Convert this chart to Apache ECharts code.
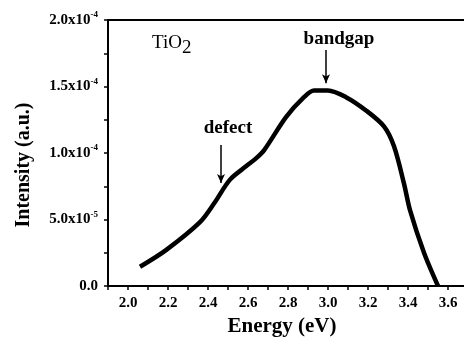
<!DOCTYPE html>
<html>
<head>
<meta charset="utf-8">
<script src="https://cdn.jsdelivr.net/npm/echarts@6/dist/echarts.min.js"></script>
<style>
  html, body { margin: 0; padding: 0; background: #fff; }
  #main { width: 464px; height: 341px; }
</style>
</head>
<body>
<div id="main"></div>
<script>
// photoluminescence curve of TiO2
var energy = [2.06, 2.19, 2.36, 2.43, 2.51, 2.59, 2.64, 2.68, 2.79, 2.88, 2.93, 3.00, 3.09, 3.19, 3.28, 3.33, 3.38, 3.41, 3.48, 3.55];
var intensity = [0.145e-4, 0.27e-4, 0.48e-4, 0.62e-4, 0.80e-4, 0.90e-4, 0.96e-4, 1.02e-4, 1.27e-4, 1.42e-4, 1.47e-4, 1.47e-4, 1.42e-4, 1.32e-4, 1.20e-4, 1.05e-4, 0.77e-4, 0.57e-4, 0.25e-4, 0.0];
var yTickLabels = ["0.0", "5.0x10{s|-5}", "1.0x10{s|-4}", "1.5x10{s|-4}", "2.0x10{s|-4}"];
// arrows: [energy, from, to]
var defectArrow = [2.465, 1.06e-4, 0.775e-4];
var bandgapArrow = [2.99, 1.775e-4, 1.525e-4];
// annotations: [energy, intensity, text]
var tio2Note = [2.12, 1.83e-4, "TiO{sub|2}"];
var bandgapNote = [3.055, 1.86e-4, "bandgap"];
var defectNote = [2.50, 1.19e-4, "defect"];

var font = "Liberation Serif";
var chart = echarts.init(document.getElementById("main"));

var points = energy.map(function (e, i) { return [e, intensity[i]]; });

function note(n, align, weight) {
  return {
    value: [n[0], n[1]],
    name: n[2],
    label: {
      show: true,
      position: [0, 0],
      align: align,
      verticalAlign: "middle",
      formatter: n[2],
      fontFamily: font,
      fontWeight: weight,
      fontSize: 19,
      color: "#000",
      opacity: 1,
      rich: {
        sub: { fontFamily: font, fontWeight: weight, fontSize: 19, color: "#000", padding: [10, 0, 0, 0] }
      }
    }
  };
}

var option = {
  animation: false,
  grid: { left: 108, right: -4, top: 20, bottom: 55, outerBoundsMode: "none", containLabel: false },
  xAxis: [
    {
      type: "value",
      min: 1.9,
      max: 3.7,
      interval: 0.1,
      name: "Energy (eV)",
      nameLocation: "middle",
      nameGap: 30,
      nameTextStyle: { fontFamily: font, fontWeight: "bold", fontSize: 21, color: "#000", padding: [0, 12, 0, 0] },
      axisLine: { lineStyle: { color: "#000", width: 2 } },
      axisTick: { show: true, length: 4, lineStyle: { color: "#000", width: 1.5 } },
      axisLabel: {
        fontFamily: font, fontWeight: "bold", fontSize: 15, color: "#000", margin: 10,
        formatter: function (v) {
          var k = Math.round(v * 10);
          return (k % 2 === 0 && k >= 20 && k <= 36) ? (k / 10).toFixed(1) : "";
        }
      },
      splitLine: { show: false }
    },
    {
      type: "value",
      position: "top",
      min: 1.9,
      max: 3.7,
      axisLine: { show: true, lineStyle: { color: "#000", width: 2 } },
      axisTick: { show: false },
      axisLabel: { show: false },
      splitLine: { show: false }
    }
  ],
  yAxis: {
    type: "value",
    min: 0,
    max: 2e-4,
    interval: 0.25e-4,
    name: "Intensity (a.u.)",
    nameLocation: "middle",
    nameGap: 74,
    nameTextStyle: { fontFamily: font, fontWeight: "bold", fontSize: 20, color: "#000", padding: [0, 0, 0, -24] },
    axisLine: { show: true, lineStyle: { color: "#000", width: 2 } },
    axisTick: { show: true, length: 4, lineStyle: { color: "#000", width: 1.5 } },
    axisLabel: {
      fontFamily: font, fontWeight: "bold", fontSize: 15, color: "#000", margin: 10,
      formatter: function (v) {
        var k = Math.round(v / 0.25e-4);
        return k % 2 === 0 ? yTickLabels[k / 2] : "";
      },
      rich: {
        s: { fontFamily: font, fontWeight: "bold", fontSize: 9, color: "#000", verticalAlign: "top", padding: [0, 0, 10, 0] }
      }
    },
    splitLine: { show: false }
  },
  series: [
    {
      type: "line",
      data: points,
      smooth: 0.3,
      symbol: "none",
      lineStyle: { color: "#000", width: 4.5 },
      markLine: {
        silent: true,
        symbol: ["none", "arrow"],
        symbolSize: [6, 9],
        label: { show: false },
        lineStyle: { color: "#000", width: 1.5, type: "solid" },
        data: [
          [{ coord: [defectArrow[0], defectArrow[1]] }, { coord: [defectArrow[0], defectArrow[2]] }],
          [{ coord: [bandgapArrow[0], bandgapArrow[1]] }, { coord: [bandgapArrow[0], bandgapArrow[2]] }]
        ]
      }
    },
    {
      type: "scatter",
      symbolSize: 0,
      silent: true,
      itemStyle: { opacity: 1 },
      data: [
        note(tio2Note, "left", "normal"),
        note(bandgapNote, "center", "bold"),
        note(defectNote, "center", "bold")
      ]
    }
  ]
};

chart.setOption(option);
</script>
</body>
</html>
